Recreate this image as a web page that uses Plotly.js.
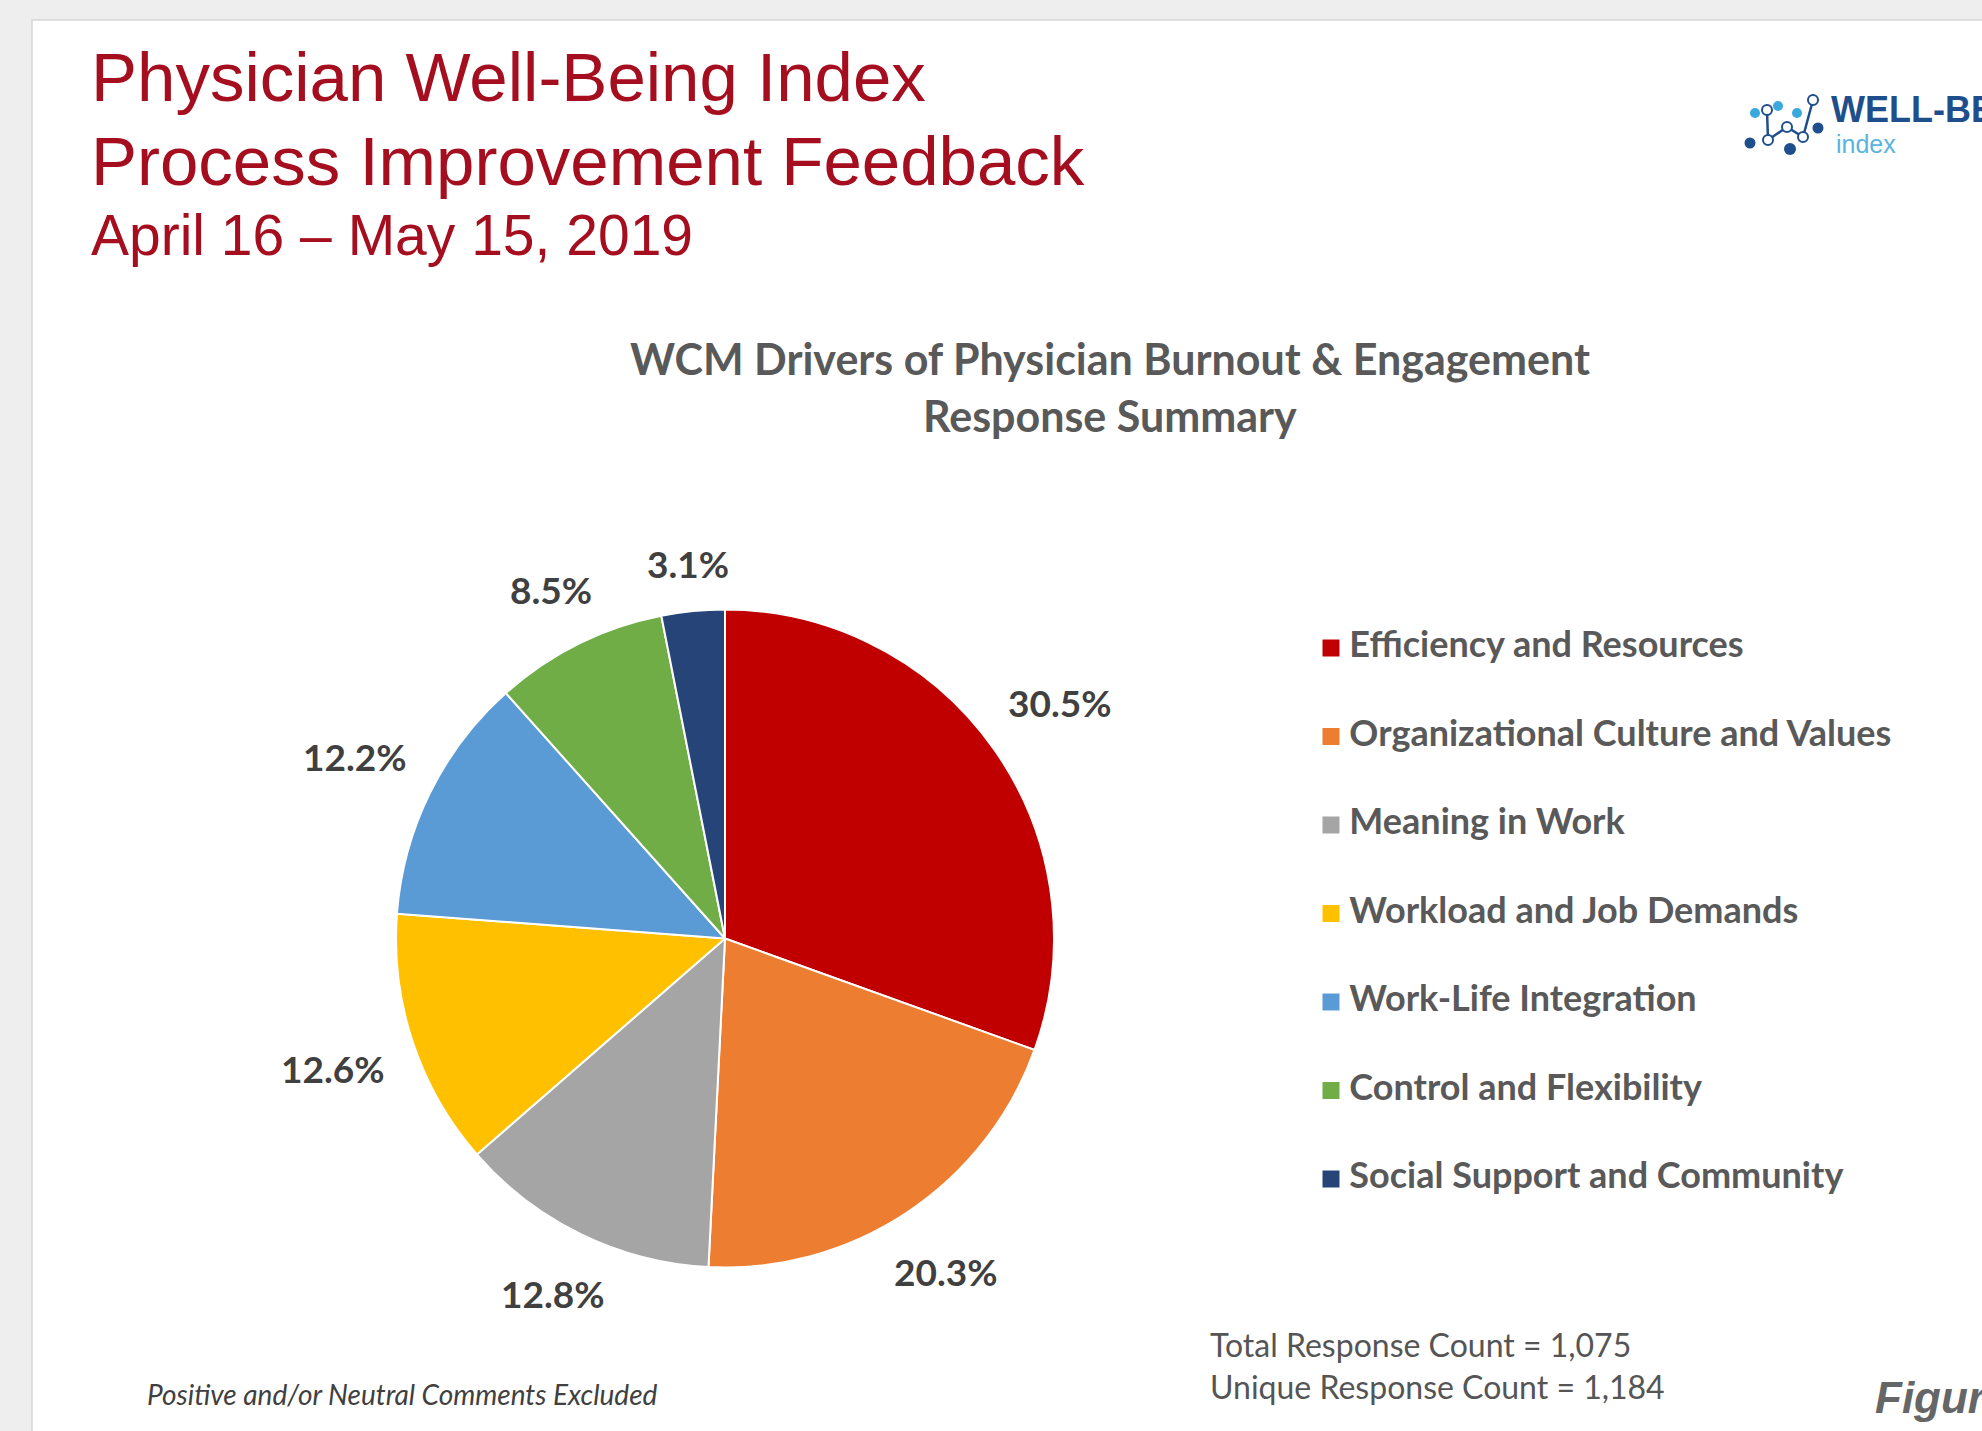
<!DOCTYPE html>
<html>
<head>
<meta charset="utf-8">
<script src="https://cdn.plot.ly/plotly-3.0.1.min.js"></script>
<style>html,body{margin:0;padding:0;background:#eeeeee;}#chart{width:1982px;height:1431px;}</style>
</head>
<body>
<div id="chart"></div>
<script>
// ---- data ----
const categories = [
  "Efficiency and Resources",
  "Organizational Culture and Values",
  "Meaning in Work",
  "Workload and Job Demands",
  "Work-Life Integration",
  "Control and Flexibility",
  "Social Support and Community"
];
const percentages = [30.5, 20.3, 12.8, 12.6, 12.2, 8.5, 3.1];
const sliceColors = ["#C00000", "#ED7D31", "#A5A5A5", "#FFC000", "#5B9BD5", "#70AD47", "#264478"];

const headerLines = ["Physician Well-Being Index", "Process Improvement Feedback", "April 16 \u2013 May 15, 2019"];
const chartTitleLines = ["WCM Drivers of Physician Burnout & Engagement", "Response Summary"];
const countLines = ["Total Response Count = 1,075", "Unique Response Count = 1,184"];
const footnote = "Positive and/or Neutral Comments Excluded";

// ---- layout helpers (page pixels -> paper fractions) ----
const W = 1982, H = 1431;
const px = x => x / W;
const py = y => 1 - y / H;

const pieCx = 725, pieCy = 938.5, pieR = 329;
const labelFont = {family: "Lato, 'Open Sans', sans-serif", size: 37, color: "#404040", weight: 700};

const pie = {
  type: "pie",
  labels: categories,
  values: percentages,
  sort: false,
  direction: "clockwise",
  rotation: 0,
  marker: {colors: sliceColors, line: {color: "#ffffff", width: 2}},
  textinfo: "none",
  hoverinfo: "skip",
  showlegend: false,
  automargin: false,
  domain: {x: [px(pieCx - pieR), px(pieCx + pieR)], y: [py(pieCy + pieR), py(pieCy - pieR)]}
};

// legend drawn as a scatter on its own hidden axes
const legendRow0 = 648, legendStep = 88.5;
const legendTrace = {
  type: "scatter",
  mode: "markers+text",
  x: categories.map(() => 0),
  y: categories,
  text: categories.map(c => "\u2009\u200A" + c),
  textposition: "middle right",
  textfont: {family: "Lato, 'Open Sans', sans-serif", size: 36, color: "#595959", weight: 700},
  marker: {symbol: "square", size: 17, color: sliceColors},
  cliponaxis: false,
  hoverinfo: "skip",
  showlegend: false
};

const n = categories.length;
const yTop = legendRow0 - legendStep / 2;
const yBot = legendRow0 + legendStep * (n - 0.5);

const annotations = [];

// percentage labels placed outside each slice, at the slice's mid-angle
const ctx = document.createElement("canvas").getContext("2d");
ctx.font = `bold ${labelFont.size}px Lato`;
const total = percentages.reduce((a, b) => a + b, 0);
const gap = 31, halfH = 13;
let cum = 0;
percentages.forEach(v => {
  const th = (cum + v / 2) / total * 2 * Math.PI;
  cum += v;
  const txt = v.toFixed(1) + "%";
  const halfW = ctx.measureText(txt).width / 2;
  const s = Math.sin(th), c = Math.cos(th);
  const dist = pieR + gap + Math.abs(halfW * s) + Math.abs(halfH * c);
  annotations.push({
    xref: "paper", yref: "paper", x: px(pieCx + dist * s), y: py(pieCy - dist * c),
    xanchor: "center", yanchor: "middle", text: txt, showarrow: false, font: labelFont
  });
});

const hdr = [
  {t: headerLines[0], size: 69, y: 77},
  {t: headerLines[1], size: 69, y: 162},
  {t: headerLines[2], size: 57, y: 235}
];
hdr.forEach(h => annotations.push({
  xref: "paper", yref: "paper", x: px(89), y: py(h.y), xanchor: "left", yanchor: "middle",
  text: h.t, showarrow: false,
  font: {family: "'Liberation Sans', Arial, sans-serif", size: h.size, color: "#A50E1E"}
}));
[358, 415].forEach((yy, i) => annotations.push({
  xref: "paper", yref: "paper", x: px(1110), y: py(yy), xanchor: "center", yanchor: "middle",
  text: chartTitleLines[i], showarrow: false,
  font: {family: "Lato, 'Open Sans', sans-serif", size: 43, color: "#595959", weight: 700}
}));
[1344, 1386].forEach((yy, i) => annotations.push({
  xref: "paper", yref: "paper", x: px(1208), y: py(yy), xanchor: "left", yanchor: "middle",
  text: countLines[i], showarrow: false,
  font: {family: "Lato, 'Open Sans', sans-serif", size: 32, color: "#555555"}
}));
annotations.push({
  xref: "paper", yref: "paper", x: px(145), y: py(1394), xanchor: "left", yanchor: "middle",
  text: "<i>" + footnote + "</i>", showarrow: false,
  font: {family: "Lato, 'Open Sans', sans-serif", size: 28, color: "#404040"}
});
annotations.push({
  xref: "paper", yref: "paper", x: px(1873), y: py(1397), xanchor: "left", yanchor: "middle",
  text: "<b><i>Figure</i></b>", showarrow: false,
  font: {family: "'Liberation Sans', Arial, sans-serif", size: 44, color: "#666666"}
});
// logo text
annotations.push({
  xref: "paper", yref: "paper", x: px(1829), y: py(109), xanchor: "left", yanchor: "middle",
  text: "<b>WELL-BEING</b>", showarrow: false,
  font: {family: "'Liberation Sans', Arial, sans-serif", size: 36, color: "#1F4E8C"}
});
annotations.push({
  xref: "paper", yref: "paper", x: px(1834), y: py(144), xanchor: "left", yanchor: "middle",
  text: "index", showarrow: false,
  font: {family: "'Liberation Sans', Arial, sans-serif", size: 25, color: "#5AB4E0"}
});

const shapes = [
  // white card
  {type: "rect", xref: "paper", yref: "paper", x0: px(32), x1: px(2000), y0: py(1450), y1: py(20),
   fillcolor: "#ffffff", line: {color: "#d6d6d6", width: 1.5}, layer: "below"},
  // logo connector path
  {type: "path", xref: "paper", yref: "paper",
   path: `M ${px(1767)} ${py(110)} L ${px(1768)} ${py(140)} L ${px(1787)} ${py(127)} L ${px(1803)} ${py(137)} L ${px(1813)} ${py(100)}`,
   line: {color: "#1F4E8C", width: 2.5}}
];
const dots = [
  [1755, 113, 5, "#39A9E0", false], [1778, 106, 5, "#39A9E0", false], [1797, 113, 5, "#39A9E0", false],
  [1767, 110, 5, "#1F4E8C", true], [1813, 100, 5, "#1F4E8C", true], [1768, 140, 5, "#1F4E8C", true],
  [1787, 127, 5, "#1F4E8C", true], [1803, 137, 5, "#1F4E8C", true],
  [1750, 143, 5.5, "#1F4E8C", false], [1818, 128, 5.5, "#1F4E8C", false], [1790, 149, 6, "#1F4E8C", false]
];
dots.forEach(d => shapes.push({
  type: "circle", xref: "paper", yref: "paper",
  x0: px(d[0] - d[2]), x1: px(d[0] + d[2]), y0: py(d[1] + d[2]), y1: py(d[1] - d[2]),
  fillcolor: d[4] ? "#ffffff" : d[3], line: {color: d[3], width: d[4] ? 2 : 0}
}));

const layout = {
  width: W, height: H,
  margin: {l: 0, r: 0, t: 0, b: 0},
  paper_bgcolor: "#eeeeee",
  plot_bgcolor: "rgba(0,0,0,0)",
  showlegend: false,
  xaxis: {domain: [px(1331), 1], range: [0, 1], visible: false, fixedrange: true},
  yaxis: {domain: [py(yBot), py(yTop)], type: "category", range: [n - 0.5, -0.5], visible: false, fixedrange: true},
  annotations: annotations,
  shapes: shapes
};

Plotly.newPlot("chart", [pie, legendTrace], layout, {staticPlot: true, displayModeBar: false});
</script>
</body>
</html>
